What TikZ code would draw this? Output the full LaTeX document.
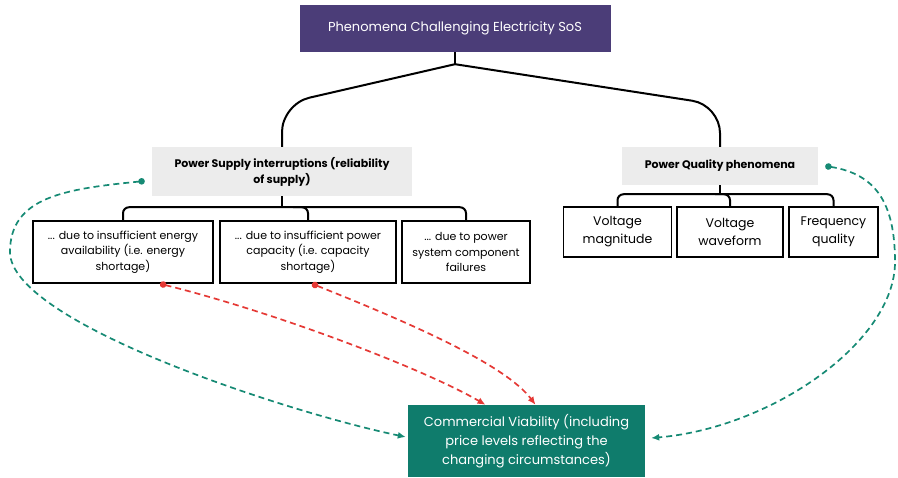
\documentclass[tikz,border=0pt]{standalone}
\usepackage{fontspec}
\setmainfont{Poppins}
\usetikzlibrary{arrows.meta}
\definecolor{purplebox}{HTML}{4B3D78}
\definecolor{greybox}{HTML}{ECECEC}
\definecolor{tealbox}{HTML}{0F7C6C}
\definecolor{redlink}{HTML}{E53935}
\definecolor{greenlink}{HTML}{168A74}

\begin{document}
\begin{tikzpicture}[x=1pt, y=-1pt,
	title/.style={fill=purplebox, text=white, minimum width=311pt, minimum height=47pt, font=\fontsize{13}{15}\selectfont},
	group/.style={fill=greybox, align=center, font=\bfseries\fontsize{11}{16}\selectfont},
	cause/.style={draw, line width=1.5pt, align=center, inner sep=2pt, minimum height=62pt, font=\fontsize{11}{15.5}\selectfont},
	kind/.style={cause, minimum height=50pt, font=\fontsize{12.5}{18}\selectfont},
	target/.style={fill=tealbox, text=white, align=center, minimum width=237pt, minimum height=72pt, font=\fontsize{13}{19}\selectfont},
	bracket/.style={line width=2pt},
	redarrow/.style={redlink, line width=1.7pt, dash pattern=on 6pt off 4pt, {Circle[length=6.5pt]}-{Latex[length=8pt, width=7pt]}},
	greenarrow/.style={greenlink, line width=1.7pt, dash pattern=on 6pt off 4pt, {Circle[length=6.5pt]}-{Latex[length=8pt, width=7pt]}}]
		\useasboundingbox (0,0) rectangle (898,478);

		\node [title](Phenomena) at (455,28.5) {Phenomena Challenging Electricity SoS};
		\node [group, minimum width=260pt, minimum height=49pt](SupplyInt) at (282,171.5) {Power Supply interruptions (reliability\\of supply)};
		\node [group, minimum width=196pt, minimum height=38pt](Quality) at (720,166) {Power Quality phenomena};

		\node [cause, minimum width=180pt](EnergyShort) at (123,252) {... due to insufficient energy\\availability (i.e. energy\\shortage)};
		\node [cause, minimum width=176pt](CapacityShort) at (308,252) {... due to insufficient power\\capacity (i.e. capacity\\shortage)};
		\node [cause, minimum width=128pt](Failures) at (466,252) {... due to power\\system component\\failures};

		\node [kind, minimum width=108pt](VoltMag) at (617.5,232) {Voltage\\magnitude};
		\node [kind, minimum width=106pt](VoltWave) at (730,232) {Voltage\\waveform};
		\node [kind, minimum width=89pt](Frequency) at (833.5,232) {Frequency\\quality};

		\node [target](Viability) at (526.5,441) {Commercial Viability (including\\price levels reflecting the\\changing circumstances)};

		% tree
		\draw [bracket](Phenomena.south) -- ++(0,12) coordinate (TopFork);
		\draw [bracket, rounded corners=28pt](TopFork) -- (282,104) -- (SupplyInt.north);
		\draw [bracket, rounded corners=28pt](TopFork) -- (720,105) -- (Quality.north);

		\draw [bracket](SupplyInt.south) -- ++(0,12);
		\draw [bracket, rounded corners=6pt](EnergyShort.north) -- ++(0,-13) -| (Failures.north);
		\draw [bracket, rounded corners=6pt](CapacityShort.north) -- ++(0,-13) -- ++(-15,0);

		\draw [bracket](Quality.south) -- ++(0,10);
		\draw [bracket, rounded corners=6pt](VoltMag.north) -- ++(0,-12) -| (Frequency.north);
		\draw [bracket, rounded corners=6pt](VoltWave.north) -- ++(0,-12) -- ++(-15,0);

		% links to commercial viability
		\coordinate (LeftBend) at (10,252);
		\coordinate (RightBend) at (895,262);
		\draw [redarrow]([xshift=37pt]EnergyShort.south) .. controls +(120,30) and +(-60,-35) .. ([xshift=-41pt]Viability.north);
		\draw [redarrow]([xshift=4pt]CapacityShort.south) .. controls +(100,40) and +(-30,-40) .. ([xshift=9pt]Viability.north);
		\draw [greenarrow]([shift={(-7,9.5)}]SupplyInt.west) .. controls +(-80,8) and +(0,-55) .. (LeftBend)
			.. controls +(0,70) and +(-120,-25) .. ([shift={(-2,-4)}]Viability.west);
		\draw [greenarrow]([shift={(7,0)}]Quality.east) .. controls +(50,8) and +(0,-60) .. (RightBend)
			.. controls +(0,80) and +(120,-10) .. ([shift={(6,-3)}]Viability.east);
	\end{tikzpicture}
\end{document}
